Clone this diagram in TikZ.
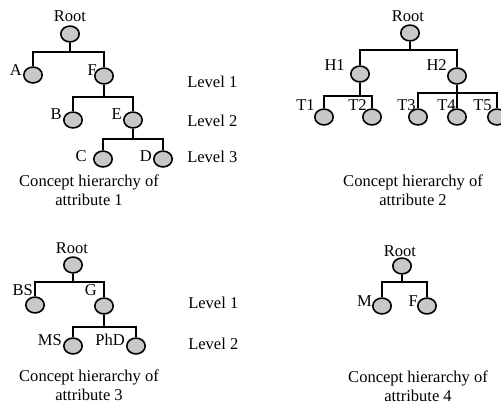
\documentclass[tikz,border=0pt]{standalone}
\usepackage{fontspec}
\setmainfont{Liberation Serif}
\usetikzlibrary{shapes.geometric}
\definecolor{nodegray}{RGB}{200,200,200}

\tikzset{
  concept/.style={ellipse, draw, fill=nodegray, line width=1.2pt, minimum width=13.8pt, minimum height=11.9pt, inner sep=0pt},
  link/.style={line width=1.2pt},
  tag/.style={anchor=base east, inner sep=0pt},
  lvl/.style={anchor=base west, inner sep=0pt},
  caption/.style={align=center, anchor=north, inner sep=0pt},
}

\begin{document}
\begin{tikzpicture}[x=0.75pt, y=-0.75pt, font=\fontsize{12.4}{13.6}\selectfont]
  \useasboundingbox (0,0) rectangle (501,405);

  % attribute 1
  \node[concept] (r1) at (70,34) {};
  \node[concept] (nA) at (33,75) {};
  \node[concept] (nF) at (104,76) {};
  \node[concept] (nB) at (73,120) {};
  \node[concept] (nE) at (133,120) {};
  \node[concept] (nC) at (103,159) {};
  \node[concept] (nD) at (163,159) {};
  \node[anchor=base, inner sep=0pt] (tr1) at (70,21) {Root};
  \node[tag] (tA) at (22,75) {A};
  \node[tag] (tF) at (97,75) {F};
  \node[tag] (tB) at (62,119) {B};
  \node[tag] (tE) at (122,119) {E};
  \node[tag] (tC) at (87,161) {C};
  \node[tag] (tD) at (152,161) {D};
  \node[lvl] (lv1) at (187,87) {Level 1};
  \node[lvl] (lv2) at (187,126) {Level 2};
  \node[lvl] (lv3) at (187,162) {Level 3};
  \node[caption] (cap1) at (89,175) {Concept hierarchy of\\attribute 1};

  \coordinate (j1) at (70,52);
  \coordinate (j2) at (104,97);
  \coordinate (j3) at (133,139);
  \draw[link] (r1.south) -- (j1);
  \draw[link] (nA.north) |- (j1) -| (nF.north);
  \draw[link] (nF.south) -- (j2);
  \draw[link] (nB.north) |- (j2) -| (nE.north);
  \draw[link] (nE.south) -- (j3);
  \draw[link] (nC.north) |- (j3) -| (nD.north);

  % attribute 2
  \node[concept] (r2) at (410,33) {};
  \node[concept] (h1) at (360,74) {};
  \node[concept] (h2) at (457,76) {};
  \node[concept] (t1) at (324,117) {};
  \node[concept] (t2) at (372,117) {};
  \node[concept] (t3) at (418,117) {};
  \node[concept] (t4) at (457,117) {};
  \node[concept] (t5) at (497,117) {};
  \node[anchor=base, inner sep=0pt] (tr2) at (408,21) {Root};
  \node[tag] (th1) at (345,70) {H1};
  \node[tag] (th2) at (447,70) {H2};
  \node[tag] (tt1) at (315,110) {T1};
  \node[tag] (tt2) at (367,110) {T2};
  \node[tag] (tt3) at (416,110) {T3};
  \node[tag] (tt4) at (456,110) {T4};
  \node[tag] (tt5) at (492,110) {T5};
  \node[caption] (cap2) at (413,175) {Concept hierarchy of\\attribute 2};

  \coordinate (j4) at (410,50);
  \coordinate (j5) at (360,96);
  \coordinate (j6) at (457,93);
  \draw[link] (r2.south) -- (j4);
  \draw[link] (h1.north) |- (j4) -| (h2.north);
  \draw[link] (h1.south) -- (j5);
  \draw[link] (t1.north) |- (j5) -| (t2.north);
  \draw[link] (h2.south) -- (j6);
  \draw[link] (t3.north) |- (j6) -| (t5.north);
  \draw[link] (j6) -- (t4.north);

  % attribute 3
  \node[concept] (r3) at (73,265) {};
  \node[concept] (bs) at (35,305) {};
  \node[concept] (g) at (104,306) {};
  \node[concept] (ms) at (73,346) {};
  \node[concept] (phd) at (136,346) {};
  \node[anchor=base, inner sep=0pt] (tr3) at (72,253) {Root};
  \node[tag] (tbs) at (33,295) {BS};
  \node[tag] (tg) at (97,295) {G};
  \node[tag] (tms) at (62,345) {MS};
  \node[tag] (tphd) at (125,345) {PhD};
  \node[lvl] (lv4) at (188,308) {Level 1};
  \node[lvl] (lv5) at (188,349) {Level 2};
  \node[caption] (cap3) at (89,370) {Concept hierarchy of\\attribute 3};

  \coordinate (j7) at (73,282);
  \coordinate (j8) at (104,327);
  \draw[link] (r3.south) -- (j7);
  \draw[link] (bs.north) |- (j7) -| (g.north);
  \draw[link] (g.south) -- (j8);
  \draw[link] (ms.north) |- (j8) -| (phd.north);

  % attribute 4
  \node[concept] (r4) at (402,266) {};
  \node[concept] (m) at (382,306) {};
  \node[concept] (f4) at (427,306) {};
  \node[anchor=base, inner sep=0pt] (tr4) at (400,256) {Root};
  \node[tag] (tm) at (372,306) {M};
  \node[tag] (tf4) at (418,306) {F};
  \node[caption] (cap4) at (418,371) {Concept hierarchy of\\attribute 4};

  \coordinate (j9) at (402,282);
  \draw[link] (r4.south) -- (j9);
  \draw[link] (m.north) |- (j9) -| (f4.north);
\end{tikzpicture}
\end{document}
